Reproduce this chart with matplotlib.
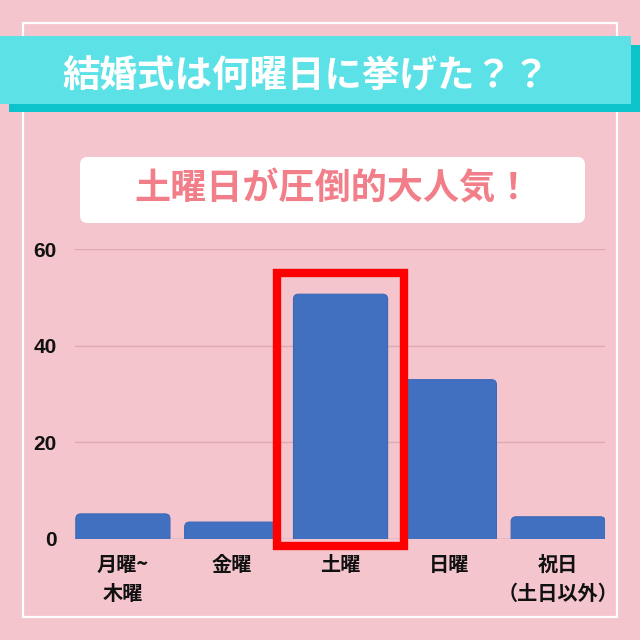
import matplotlib
matplotlib.use("Agg")
import matplotlib.pyplot as plt
from matplotlib.patches import Rectangle, FancyBboxPatch

categories = ["月曜~\n木曜", "金曜", "土曜", "日曜", "祝日\n（土日以外）"]
values = [5.2, 3.5, 50.7, 33.0, 4.6]
yticks = [0, 20, 40, 60]
highlight = "土曜"
title = "結婚式は何曜日に挙げた？？"
subtitle = "土曜日が圧倒的大人気！"

W = H = 640
BG = "#F4C5CD"
CJK = ["Noto Sans CJK JP", "DejaVu Sans"]

fig = plt.figure(figsize=(6.4, 6.4), dpi=100, facecolor=BG)

def fx(x):
    return x / W

def fy(y):
    return 1 - y / H

def frect(x0, y0, x1, y1, **kw):
    return Rectangle((fx(x0), fy(y1)), fx(x1) - fx(x0), fy(y0) - fy(y1),
                     transform=fig.transFigure, **kw)

# white frame
fig.patches.append(frect(23, 23, 617, 617, fill=False, edgecolor="white", linewidth=1.6, zorder=1))
# title banner with shadow
fig.patches.append(frect(9, 45, 645, 112, facecolor="#0CC3CC", edgecolor="none", zorder=2))
fig.patches.append(frect(-5, 36, 631, 104, facecolor="#5CE1E6", edgecolor="none", zorder=3))
fig.text(fx(306), fy(76), title, color="white", fontsize=27, fontweight="bold",
         family=CJK, ha="center", va="center", zorder=4)
# subtitle box
sub = FancyBboxPatch((fx(80), fy(223)), fx(585) - fx(80), fy(157) - fy(223),
                     boxstyle="round,pad=0,rounding_size=0.012",
                     transform=fig.transFigure, facecolor="white", edgecolor="none", zorder=2)
fig.patches.append(sub)
fig.text(fx(333), fy(189), subtitle, color="#F27E89", fontsize=26, fontweight="bold",
         family=CJK, ha="center", va="center", zorder=4)

# axes
ax_left, ax_right, ax_top, ax_bot = 75, 605, 249.3, 539
ax = fig.add_axes([fx(ax_left), fy(ax_bot), fx(ax_right) - fx(ax_left), fy(ax_top) - fy(ax_bot)])
ax.set_facecolor("none")
ax.set_zorder(5)
ax.set_ylim(0, 60)
ax.set_xlim(-0.44, 4.43)
for s in ax.spines.values():
    s.set_visible(False)
ax.set_yticks(yticks)
ax.set_yticklabels([str(v) for v in yticks], fontsize=15, fontweight="bold",
                   family=["Liberation Sans", "DejaVu Sans"], color="#111111")
ax.tick_params(axis="y", length=0, pad=13)
ax.tick_params(axis="x", length=0, pad=11)
ax.grid(axis="y", color="#DDAAB4", linewidth=1.0, zorder=0)
ax.set_axisbelow(True)
ax.axhline(0, color="#C9A5AD", linewidth=1.0, zorder=1)

xs = list(range(len(categories)))
ax.set_xticks(xs)
ax.set_xticklabels(categories, fontsize=14.5, fontweight="bold", family=CJK,
                   color="#111111", linespacing=1.45, va="top")

bw = 0.865
px_x = (ax_right - ax_left) / (4.43 + 0.44)
px_y = (ax_bot - ax_top) / 60
r = 5
for x, v in zip(xs, values):
    p = FancyBboxPatch((x - bw / 2, -3), bw, v + 3,
                       boxstyle=f"round,pad=0,rounding_size={r / px_x}",
                       mutation_aspect=px_x / px_y,
                       facecolor="#4270C0", edgecolor="#3B68B8", linewidth=0.8, zorder=3)
    ax.add_patch(p)

hi = categories.index(highlight)
ax.add_patch(Rectangle((hi - 0.585, -1.35), 1.17, 56.4, fill=False, edgecolor="#FF0000",
                       linewidth=6, clip_on=False, zorder=6))

fig.savefig("out.png", dpi=100, facecolor=BG)
